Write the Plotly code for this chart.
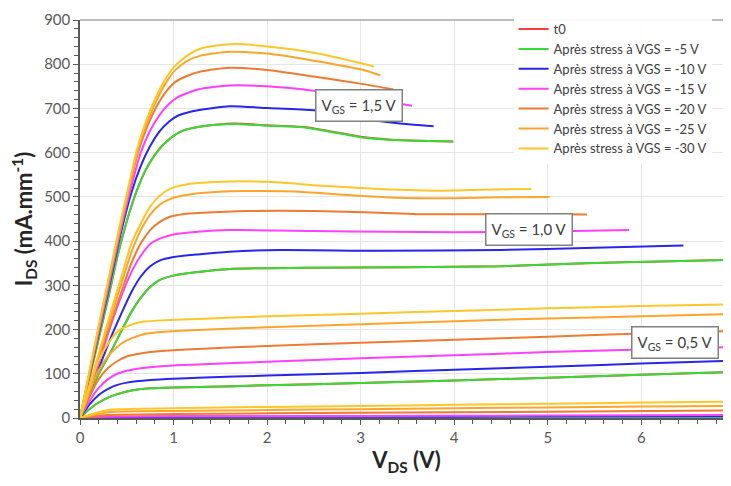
import plotly.graph_objects as go

# ---------------- series ----------------
names = ["t0",
         "Après stress à VGS = -5 V",
         "Après stress à VGS = -10 V",
         "Après stress à VGS = -15 V",
         "Après stress à VGS = -20 V",
         "Après stress à VGS = -25 V",
         "Après stress à VGS = -30 V"]
colors = ["#FF3B3B", "#33DD33", "#2626EE", "#FF40FF", "#F07A30", "#FFA42A", "#FFC62A"]

# ---------------- VGS = 0 V ----------------
v0_t0 = [0, 0.3, 2, 4, 7];          i0_t0 = [0, 3, 3, 4, 4]
v0_m5 = [0, 0.3, 2, 4, 7];          i0_m5 = [0, 2, 3, 3, 3]
v0_m10 = [0, 0.3, 2, 4, 7];         i0_m10 = [0, 2, 3, 3, 4]
v0_m15 = [0, 0.3, 2, 4, 6, 7];      i0_m15 = [0, 3, 4, 5, 6, 7]
v0_m20 = [0, 0.3, 1, 3, 5, 7];      i0_m20 = [0, 7, 9, 12, 14, 17]
v0_m25 = [0, 0.3, 1, 2, 3, 4, 5, 6, 7];  i0_m25 = [0, 13, 16, 18, 20, 22, 24, 26, 27]
v0_m30 = [0, 0.3, 1, 2, 3, 4, 5, 6, 7];  i0_m30 = [0, 18, 22, 25, 27, 30, 32, 35, 37]

# ---------------- VGS = 0.5 V ----------------
v05_t0 = [0, 0.1, 0.2, 0.3, 0.4, 0.5, 0.6, 0.75, 1.0, 1.26, 2, 3, 4, 5, 6, 7]
i05_t0 = [0, 20, 35, 46, 54, 60, 64, 67, 69, 70, 74, 79, 85, 91, 98, 104]
v05_m5 = [0, 0.1, 0.2, 0.3, 0.4, 0.5, 0.6, 0.75, 1.0, 1.26, 2, 3, 4, 5, 6, 7]
i05_m5 = [0, 20, 35, 46, 54, 60, 64, 67, 69, 70, 74, 79, 85, 91, 98, 104]
v05_m10 = [0, 0.1, 0.2, 0.3, 0.4, 0.5, 0.6, 0.75, 1.0, 1.26, 2, 3, 4, 5, 6, 7]
i05_m10 = [0, 30, 52, 66, 75, 80, 83, 86, 89, 91, 96, 102, 109, 116, 123, 130]
v05_m15 = [0, 0.1, 0.2, 0.3, 0.4, 0.5, 0.6, 0.75, 1.0, 1.26, 2, 3, 4, 5, 6, 7]
i05_m15 = [0, 38, 68, 88, 100, 107, 111, 115, 119, 121, 127, 135, 142, 149, 155, 161]
v05_m20 = [0, 0.1, 0.2, 0.3, 0.41, 0.5, 0.6, 0.75, 1.0, 1.26, 2, 3, 4, 5, 6, 7]
i05_m20 = [0, 48, 88, 113, 130, 139, 144, 149, 153, 156, 163, 170, 177, 184, 191, 197]
v05_m25 = [0, 0.1, 0.2, 0.3, 0.44, 0.55, 0.69, 0.9, 1.26, 2, 3, 4, 5, 6, 7]
i05_m25 = [0, 58, 108, 140, 168, 180, 190, 195, 199, 205, 212, 219, 225, 230, 235]
v05_m30 = [0, 0.1, 0.19, 0.3, 0.41, 0.55, 0.69, 0.9, 1.26, 2, 3, 4, 5, 6, 7]
i05_m30 = [0, 68, 125, 168, 197, 211, 218, 221, 224, 230, 236, 242, 248, 253, 257]

# ---------------- VGS = 1.0 V ----------------
v10_t0 = [0, 0.1, 0.2, 0.33, 0.45, 0.55, 0.65, 0.75, 0.85, 1.0, 1.26, 1.6, 2.5, 3.5, 4.5, 5.4, 6.2, 7.0]
i10_t0 = [0, 50, 100, 150, 200, 240, 272, 296, 312, 322, 330, 337, 340, 341, 343, 350, 354, 358]
v10_m5 = [0, 0.1, 0.2, 0.33, 0.45, 0.55, 0.65, 0.75, 0.85, 1.0, 1.26, 1.6, 2.5, 3.5, 4.5, 5.4, 6.2, 7.0]
i10_m5 = [0, 50, 100, 150, 200, 240, 272, 296, 312, 322, 330, 337, 340, 341, 343, 350, 354, 358]
v10_m10 = [0, 0.1, 0.2, 0.33, 0.45, 0.55, 0.65, 0.75, 0.85, 1.0, 1.26, 1.6, 2.14, 3.2, 4.5, 5.5, 6.45]
i10_m10 = [0, 56, 112, 182, 240, 285, 320, 343, 356, 364, 370, 376, 380, 378, 380, 385, 390]
v10_m15 = [0, 0.1, 0.2, 0.33, 0.45, 0.55, 0.65, 0.76, 0.88, 1.0, 1.26, 1.6, 2.5, 3.3, 4.0, 5.0, 5.87]
i10_m15 = [0, 62, 124, 210, 280, 330, 367, 395, 408, 415, 421, 425, 423, 421, 420, 422, 425]
v10_m20 = [0, 0.1, 0.2, 0.33, 0.45, 0.55, 0.65, 0.75, 0.85, 0.96, 1.1, 1.3, 1.8, 2.5, 3.2, 3.6, 4.3, 5.0, 5.42]
i10_m20 = [0, 66, 132, 215, 290, 350, 395, 425, 443, 455, 461, 464, 468, 468, 464, 461, 461, 461, 460]
v10_m25 = [0, 0.1, 0.2, 0.33, 0.45, 0.55, 0.65, 0.75, 0.85, 0.96, 1.1, 1.3, 1.6, 2.3, 2.8, 3.4, 4.0, 4.5, 5.02]
i10_m25 = [0, 70, 140, 228, 310, 375, 425, 460, 482, 495, 503, 509, 513, 512, 505, 498, 497, 499, 500]
v10_m30 = [0, 0.1, 0.2, 0.33, 0.45, 0.55, 0.65, 0.75, 0.85, 0.96, 1.1, 1.3, 1.6, 2.1, 2.6, 3.2, 3.9, 4.3, 4.82]
i10_m30 = [0, 73, 146, 240, 325, 395, 440, 478, 502, 518, 527, 532, 535, 533, 525, 518, 514, 516, 518]

# ---------------- VGS = 1.5 V ----------------
v15_t0 = [0, 0.1, 0.2, 0.3, 0.4, 0.5, 0.6, 0.7, 0.8, 0.9, 1.0, 1.1, 1.26, 1.45, 1.65, 2.0, 2.4, 3.0, 3.3, 3.99]
i15_t0 = [0, 90, 180, 270, 365, 445, 510, 560, 595, 620, 638, 650, 658, 663, 666, 662, 658, 636, 630, 625]
v15_m5 = [0, 0.1, 0.2, 0.3, 0.4, 0.5, 0.6, 0.7, 0.8, 0.9, 1.0, 1.1, 1.26, 1.45, 1.65, 2.0, 2.4, 3.0, 3.3, 3.99]
i15_m5 = [0, 90, 180, 270, 365, 445, 510, 560, 595, 620, 638, 650, 658, 663, 665, 661, 657, 635, 629, 625]
v15_m10 = [0, 0.1, 0.2, 0.3, 0.44, 0.55, 0.65, 0.75, 0.85, 0.95, 1.05, 1.26, 1.6, 2.0, 2.5, 3.03, 3.57, 3.78]
i15_m10 = [0, 95, 190, 285, 421, 510, 570, 615, 648, 670, 684, 696, 705, 701, 696, 676, 663, 660]
v15_m15 = [0, 0.1, 0.2, 0.3, 0.43, 0.55, 0.65, 0.75, 0.85, 0.95, 1.05, 1.26, 1.6, 2.0, 2.5, 3.03, 3.55]
i15_m15 = [0, 98, 195, 292, 421, 525, 600, 650, 685, 710, 726, 743, 752, 750, 740, 725, 706]
v15_m20 = [0, 0.1, 0.2, 0.3, 0.42, 0.52, 0.62, 0.72, 0.82, 0.92, 1.02, 1.15, 1.3, 1.6, 2.0, 2.5, 3.03, 3.35]
i15_m20 = [0, 100, 200, 300, 421, 515, 600, 660, 705, 738, 760, 774, 784, 792, 787, 772, 755, 743]
v15_m25 = [0, 0.1, 0.2, 0.3, 0.42, 0.52, 0.61, 0.71, 0.81, 0.91, 1.01, 1.15, 1.3, 1.6, 2.0, 2.5, 3.03, 3.21]
i15_m25 = [0, 102, 205, 305, 421, 515, 600, 665, 715, 755, 785, 808, 820, 828, 824, 808, 787, 775]
v15_m30 = [0, 0.1, 0.2, 0.3, 0.41, 0.51, 0.6, 0.7, 0.8, 0.9, 1.0, 1.15, 1.3, 1.64, 2.0, 2.5, 3.03, 3.14]
i15_m30 = [0, 105, 210, 310, 421, 515, 600, 668, 720, 762, 793, 820, 836, 846, 840, 826, 801, 795]

curves_v = [
    [v0_t0, v05_t0, v10_t0, v15_t0],
    [v0_m5, v05_m5, v10_m5, v15_m5],
    [v0_m10, v05_m10, v10_m10, v15_m10],
    [v0_m15, v05_m15, v10_m15, v15_m15],
    [v0_m20, v05_m20, v10_m20, v15_m20],
    [v0_m25, v05_m25, v10_m25, v15_m25],
    [v0_m30, v05_m30, v10_m30, v15_m30],
]
curves_i = [
    [i0_t0, i05_t0, i10_t0, i15_t0],
    [i0_m5, i05_m5, i10_m5, i15_m5],
    [i0_m10, i05_m10, i10_m10, i15_m10],
    [i0_m15, i05_m15, i10_m15, i15_m15],
    [i0_m20, i05_m20, i10_m20, i15_m20],
    [i0_m25, i05_m25, i10_m25, i15_m25],
    [i0_m30, i05_m30, i10_m30, i15_m30],
]

# annotation labels
box_labels = ["V<sub>GS</sub> = 1,5 V", "V<sub>GS</sub> = 1,0 V", "V<sub>GS</sub> = 0,5 V"]
box_x = [2.98, 4.80, 6.36]
box_y = [707, 427, 170]

fig = go.Figure()
for name, col, vs, iis in zip(names, colors, curves_v, curves_i):
    xs, ys = [], []
    for v, i in zip(vs, iis):
        if xs:
            xs.append(None); ys.append(None)
        xs.extend(v); ys.extend(i)
    fig.add_trace(go.Scatter(x=xs, y=ys, mode="lines", name=name,
                             line=dict(color=col, width=2, shape="spline", smoothing=0.6),
                             connectgaps=False))

for t, x, y in zip(box_labels, box_x, box_y):
    fig.add_annotation(x=x, y=y, text=t, showarrow=False,
                       font=dict(size=15, color="#404040", family="Lato, Open Sans, sans-serif"),
                       bgcolor="white", bordercolor="#808080", borderwidth=1.5, borderpad=5)

fig.add_shape(type="line", xref="paper", yref="paper", x0=0, x1=1, y0=1, y1=1,
              line=dict(color="#A6A6A6", width=1.5))

# the page body adds an 8px offset, so margins compensate for it
fig.update_layout(
    width=731, height=486,
    margin=dict(l=72, r=6, t=8, b=76),
    plot_bgcolor="white", paper_bgcolor="white",
    font=dict(family="Lato, Open Sans, sans-serif", color="#595959", size=15),
    legend=dict(x=0.664, y=1.015, xanchor="left", yanchor="top",
                font=dict(size=13, color="#404040"), bgcolor="rgba(255,255,255,0.9)",
                tracegroupgap=0, itemwidth=30),
    xaxis=dict(range=[0, 6.98], tick0=0, dtick=1, showgrid=True, gridcolor="#E6E6E6",
               showline=True, linecolor="#595959", linewidth=1.5, automargin=False,
               ticks="outside", ticklen=5, tickcolor="#595959", zeroline=False,
               minor=dict(dtick=0.2, ticks="outside", ticklen=4, tickcolor="#595959", showgrid=False),
               title=dict(text="<b>V<sub>DS</sub> (V)</b>", font=dict(size=22, color="#262626"), standoff=8)),
    yaxis=dict(range=[0, 900], tick0=0, dtick=100, showgrid=True, gridcolor="#E6E6E6",
               showline=True, linecolor="#595959", linewidth=1.5, automargin=False,
               ticks="outside", ticklen=5, tickcolor="#595959", zeroline=False,
               minor=dict(dtick=20, ticks="outside", ticklen=4, tickcolor="#595959", showgrid=False),
               title=dict(text="<b>I<sub>DS</sub> (mA.mm<sup>-1</sup>)</b>", font=dict(size=22, color="#262626"), standoff=8)),
)

fig.write_html("out.html")
